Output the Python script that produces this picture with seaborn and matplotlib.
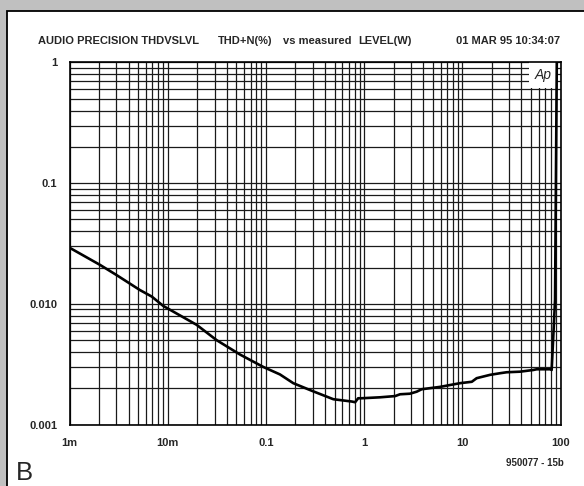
import matplotlib
matplotlib.use("Agg")
import matplotlib.pyplot as plt
from matplotlib import font_manager
from matplotlib.patches import Rectangle
from matplotlib.ticker import FixedLocator, NullFormatter, LogLocator
import numpy as np
import pandas as pd
import seaborn as sns

# THD+N (%) versus measured level (W)
level_w = [0.001, 0.00205, 0.00302, 0.00522, 0.00687, 0.00902, 0.0197, 0.0315,
           0.0545, 0.094, 0.139, 0.190, 0.295, 0.486, 0.75, 0.81, 0.87, 0.94,
           1.45, 2.07, 2.32, 2.93, 3.43, 3.86, 5.93, 9.48, 12.5, 14.0, 19.2,
           24.2, 28.3, 38.7, 52.8, 57.3, 78.2, 81.3, 88.0, 92.0]
thd_pct = [0.0292, 0.0210, 0.0173, 0.0130, 0.0115, 0.0096, 0.0067, 0.0050,
           0.0038, 0.0030, 0.0026, 0.0022, 0.0019, 0.00162, 0.00155, 0.00153,
           0.00165, 0.00165, 0.00168, 0.00172, 0.00178, 0.00180, 0.00187,
           0.00196, 0.00205, 0.00220, 0.00226, 0.00242, 0.00258, 0.00266,
           0.00271, 0.00274, 0.00283, 0.00287, 0.00287, 0.00283, 0.0108, 1.5]

x_ticks = [0.001, 0.01, 0.1, 1, 10, 100]
x_labels = ["1m", "10m", "0.1", "1", "10", "100"]
y_ticks = [0.001, 0.01, 0.1, 1]
y_labels = ["0.001", "0.010", "0.1", "1"]

sns.set_theme(style="white")
names = {f.name for f in font_manager.fontManager.ttflist}
narrow = "Liberation Sans Narrow" if "Liberation Sans Narrow" in names else "Liberation Sans"
plt.rcParams["font.family"] = [narrow, "DejaVu Sans"]

df = pd.DataFrame({"level": level_w, "thd": thd_pct})

fig = plt.figure(figsize=(5.84, 4.86), dpi=100, facecolor="#c0c0c0")
# white panel behind everything
fig.patches.append(Rectangle((7 / 584, -0.1), 1.2, 1 - 11 / 486 + 0.1,
                             transform=fig.transFigure, facecolor="white",
                             edgecolor="black", lw=1.3, zorder=-5))

ax = fig.add_axes([69.5 / 584, 1 - 424.5 / 486, 491 / 584, 362 / 486])
ax.set_zorder(2)
ax.set_facecolor("white")
ax.set_xscale("log")
ax.set_yscale("log")
ax.set_xlim(0.001, 100)
ax.set_ylim(0.001, 1)

ax.xaxis.set_major_locator(FixedLocator(x_ticks))
ax.yaxis.set_major_locator(FixedLocator(y_ticks))
ax.xaxis.set_minor_locator(LogLocator(base=10, subs=np.arange(2, 10)))
ax.yaxis.set_minor_locator(LogLocator(base=10, subs=np.arange(2, 10)))
ax.xaxis.set_minor_formatter(NullFormatter())
ax.yaxis.set_minor_formatter(NullFormatter())
ax.set_xticklabels(x_labels, fontsize=8, fontweight="bold")
ax.set_yticklabels(y_labels, fontsize=8, fontweight="bold")
ax.tick_params(axis="both", which="both", length=0)
ax.tick_params(axis="x", pad=10)
ax.tick_params(axis="y", pad=9)

ax.set_axisbelow(True)
ax.grid(True, which="both", color="#1a1a1a", lw=0.9)
for s in ax.spines.values():
    s.set_color("black")
    s.set_linewidth(1.2)

# Ap logo box
ax.add_patch(Rectangle((0.936, 0.9296), 0.057, 0.0704, transform=ax.transAxes,
                       facecolor="white", edgecolor="none", zorder=1))
ax.text(0.9645, 0.965, "Ap", transform=ax.transAxes, ha="center", va="center",
        fontsize=10, fontstyle="italic", family=["Liberation Sans", "DejaVu Sans"],
        zorder=1.5)

sns.lineplot(data=df, x="level", y="thd", ax=ax, color="black", lw=1.9,
             estimator=None, sort=False, zorder=3)
ax.set_xlabel("")
ax.set_ylabel("")

hy = 1 - 41 / 486
tkw = dict(fontsize=8, fontweight="bold", va="center")
fig.text(38 / 584, hy, "AUDIO PRECISION THDVSLVL", ha="left", **tkw)
fig.text(218 / 584, hy, "THD+N(%)", ha="left", **tkw)
fig.text(283 / 584, hy, "vs measured", ha="left", **tkw)
fig.text(358 / 584, hy, "LEVEL(W)", ha="left", **tkw)
fig.text(560 / 584, hy, "01 MAR 95 10:34:07", ha="right", **tkw)
fig.text(564 / 584, 1 - 463 / 486, "950077 - 15b", ha="right", fontsize=7,
         fontweight="bold", va="center")
fig.text(16 / 584, 1 - 480 / 486, "B", ha="left", va="baseline", fontsize=18.5,
         family=["Liberation Sans", "DejaVu Sans"])

fig.savefig("out.png", dpi=100, facecolor=fig.get_facecolor())
